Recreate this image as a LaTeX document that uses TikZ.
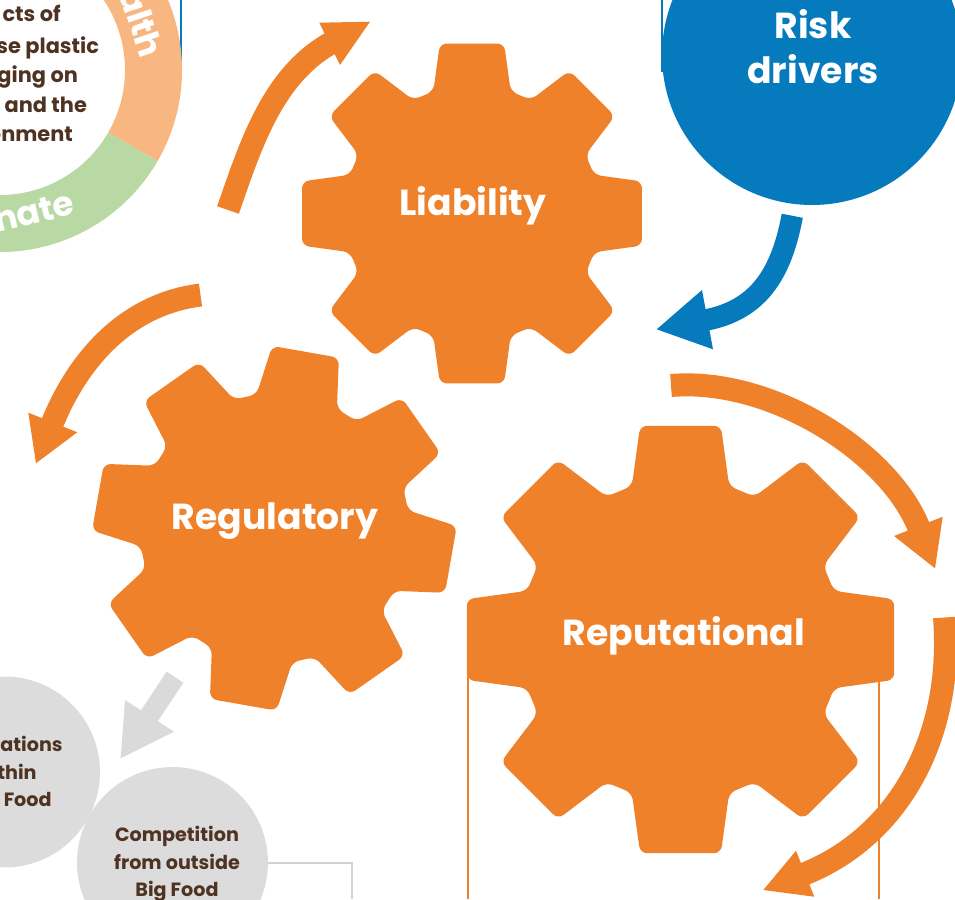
\documentclass[tikz,border=0pt]{standalone}
\usepackage{fontspec}
\setmainfont{Poppins}

\definecolor{gearorange}{HTML}{F0812B}
\definecolor{riskblue}{HTML}{057ABD}
\definecolor{ringpeach}{HTML}{F8B680}
\definecolor{ringgreen}{HTML}{B9D9A4}
\definecolor{textbrown}{HTML}{4E3222}
\definecolor{circlegrey}{HTML}{DCDCDC}
\definecolor{arrowgrey}{HTML}{DADADA}
\definecolor{linegrey}{HTML}{D2D2D2}

\begin{document}
\begin{tikzpicture}[x=0.02cm, y=0.02cm]
\tikzstyle{every node}+=[inner sep=0pt]
\tikzstyle{gear}=[fill=gearorange, rounded corners=1.4mm]
\tikzstyle{gearlabel}=[text=white, font=\fontsize{20.6}{25.5}\selectfont\bfseries]
\tikzstyle{orbit}=[gearorange, line width=0.46cm]
\tikzstyle{bodytext}=[text=textbrown, font=\fontsize{11.9}{16.7}\selectfont\bfseries]
\tikzstyle{circletext}=[text=textbrown, font=\fontsize{10.9}{15.6}\selectfont\bfseries]
\tikzstyle{ringlabel}=[text=white, font=\fontsize{19.5}{22}\selectfont\bfseries]
\tikzstyle{greycircle}=[circle, fill=circlegrey, minimum size=3.82cm]
\tikzstyle{frame}=[line width=0.04cm]
\useasboundingbox (0,0) rectangle (955,-899);
\clip (0,0) rectangle (955,-899);
% frame lines behind everything
\draw [frame, riskblue] (181,0) -- (181,-60);
\draw [frame, riskblue] (662,0) -- (662,-72);
\draw [frame, gearorange] (467.5,-610) -- (467.5,-899);
\draw [frame, gearorange] (879.3,-610) -- (879.3,-899);
% impacts ring
\fill [ringpeach] ([shift={(0,-70)}]-30:182) arc[start angle=-30, end angle=100, radius=182] -- ([shift={(0,-70)}]100:125) arc[start angle=100, end angle=-30, radius=125] -- cycle;
\fill [ringgreen] ([shift={(0,-70)}]-185:182) arc[start angle=-185, end angle=-30, radius=182] -- ([shift={(0,-70)}]-30:125) arc[start angle=-30, end angle=-185, radius=125] -- cycle;
\node [ringlabel, rotate=-71.5, anchor=mid] (health) at ([shift={(0,-70)}]18.5:142) {alth};
\node [ringlabel, rotate=13.5, anchor=mid] (climate) at ([shift={(0,-70)}]-76.5:153) {nate};
\node [bodytext, anchor=base east] (imp1) at (61,-21.7) {cts of};
\node [bodytext, anchor=base east] (imp2) at (99.3,-53.3) {se plastic};
\node [bodytext, anchor=base east] (imp3) at (78.3,-82.3) {ging on};
\node [bodytext, anchor=base east] (imp4) at (87.3,-112.3) {and the};
\node [bodytext, anchor=base east] (imp5) at (73.3,-141.7) {onment};
% gears
\foreach \cx/\cy/\R/\rot in {472/-213.5/173/0, 274.4/-528.3/182.4/-10, 680.5/-639.5/217.5/0}
{
\pgfmathsetmacro\rr{0.74*\R}
\begin{scope}[shift={(\cx,\cy)}]
\fill [gear] (\rot-22.5:\rr) \foreach \k in {0,...,7} {
  -- (\rot+45*\k-17.6:\rr) -- (\rot+45*\k-10.7:\R) -- (\rot+45*\k+10.7:\R) -- (\rot+45*\k+17.6:\rr)} -- cycle;
\end{scope}
}
\node [gearlabel, anchor=base] (liab) at (473,-215.7) {Liability};
\node [gearlabel, anchor=base] (regu) at (275,-529.3) {Regulatory};
\node [gearlabel, anchor=base] (repu) at (684,-645) {Reputational};
% arrows round the gears
\draw [orbit] (228,-210) .. controls (250,-147) and (272,-76) .. (331,-43);
\fill [gearorange] (370,-21.7) -- (319.3,-22.7) -- (340,-65) -- cycle;
\draw [orbit] (200.5,-295) .. controls (121,-305) and (75,-367) .. (52,-424);
\fill [gearorange] (36,-463.3) -- (28.3,-412.7) -- (77.3,-432.3) -- cycle;
\draw [orbit] (671,-385.5) .. controls (771,-377) and (889,-452) .. (919,-528);
\fill [gearorange] (935,-568.3) -- (894,-536) -- (942.7,-516.7) -- cycle;
\draw [orbit] (944.5,-617.5) .. controls (953.7,-737) and (898.4,-837) .. (803,-874.5);
\fill [gearorange] (763.3,-890) -- (796,-850.7) -- (814.3,-896.7) -- cycle;
% risk drivers
\node [circle, fill=riskblue, minimum size=6cm, outer sep=0.24cm] (risk) at (812,-55) {};
\node [gearlabel, align=center] (risklbl) at (813,-47) {Risk\\drivers};
\coordinate (bluetip) at (656.7,-329.3);
\draw [riskblue, line width=0.43cm] (risk.263) .. controls (781,-276) and (757,-310) .. (706,-320);
\fill [riskblue] (bluetip) -- (702,-290) -- (713,-349.3) -- cycle;
% competition circles
\node [greycircle] (collab) at (4.5,-772) {};
\node [circletext, anchor=base east] (coll1) at (63,-751) {rations};
\node [circletext, anchor=base east] (coll2) at (37,-779.3) {thin};
\node [circletext, anchor=base east] (coll3) at (52,-806.7) {Food};
\node [greycircle] (compet) at (172.5,-862.5) {};
\node [circletext, align=center] (competlbl) at (177,-864) {Competition\\from outside\\Big Food};
\draw [frame, linegrey] (compet.east) -| (352,-899);
\coordinate (regout) at (175,-677.2);
\coordinate (greytip) at (120.7,-758.3);
\draw [arrowgrey, line width=0.4cm] (regout) -- (145,-722.4);
\fill [arrowgrey] (greytip) -- (125,-700) -- (174,-731.7) -- cycle;
\end{tikzpicture}
\end{document}
